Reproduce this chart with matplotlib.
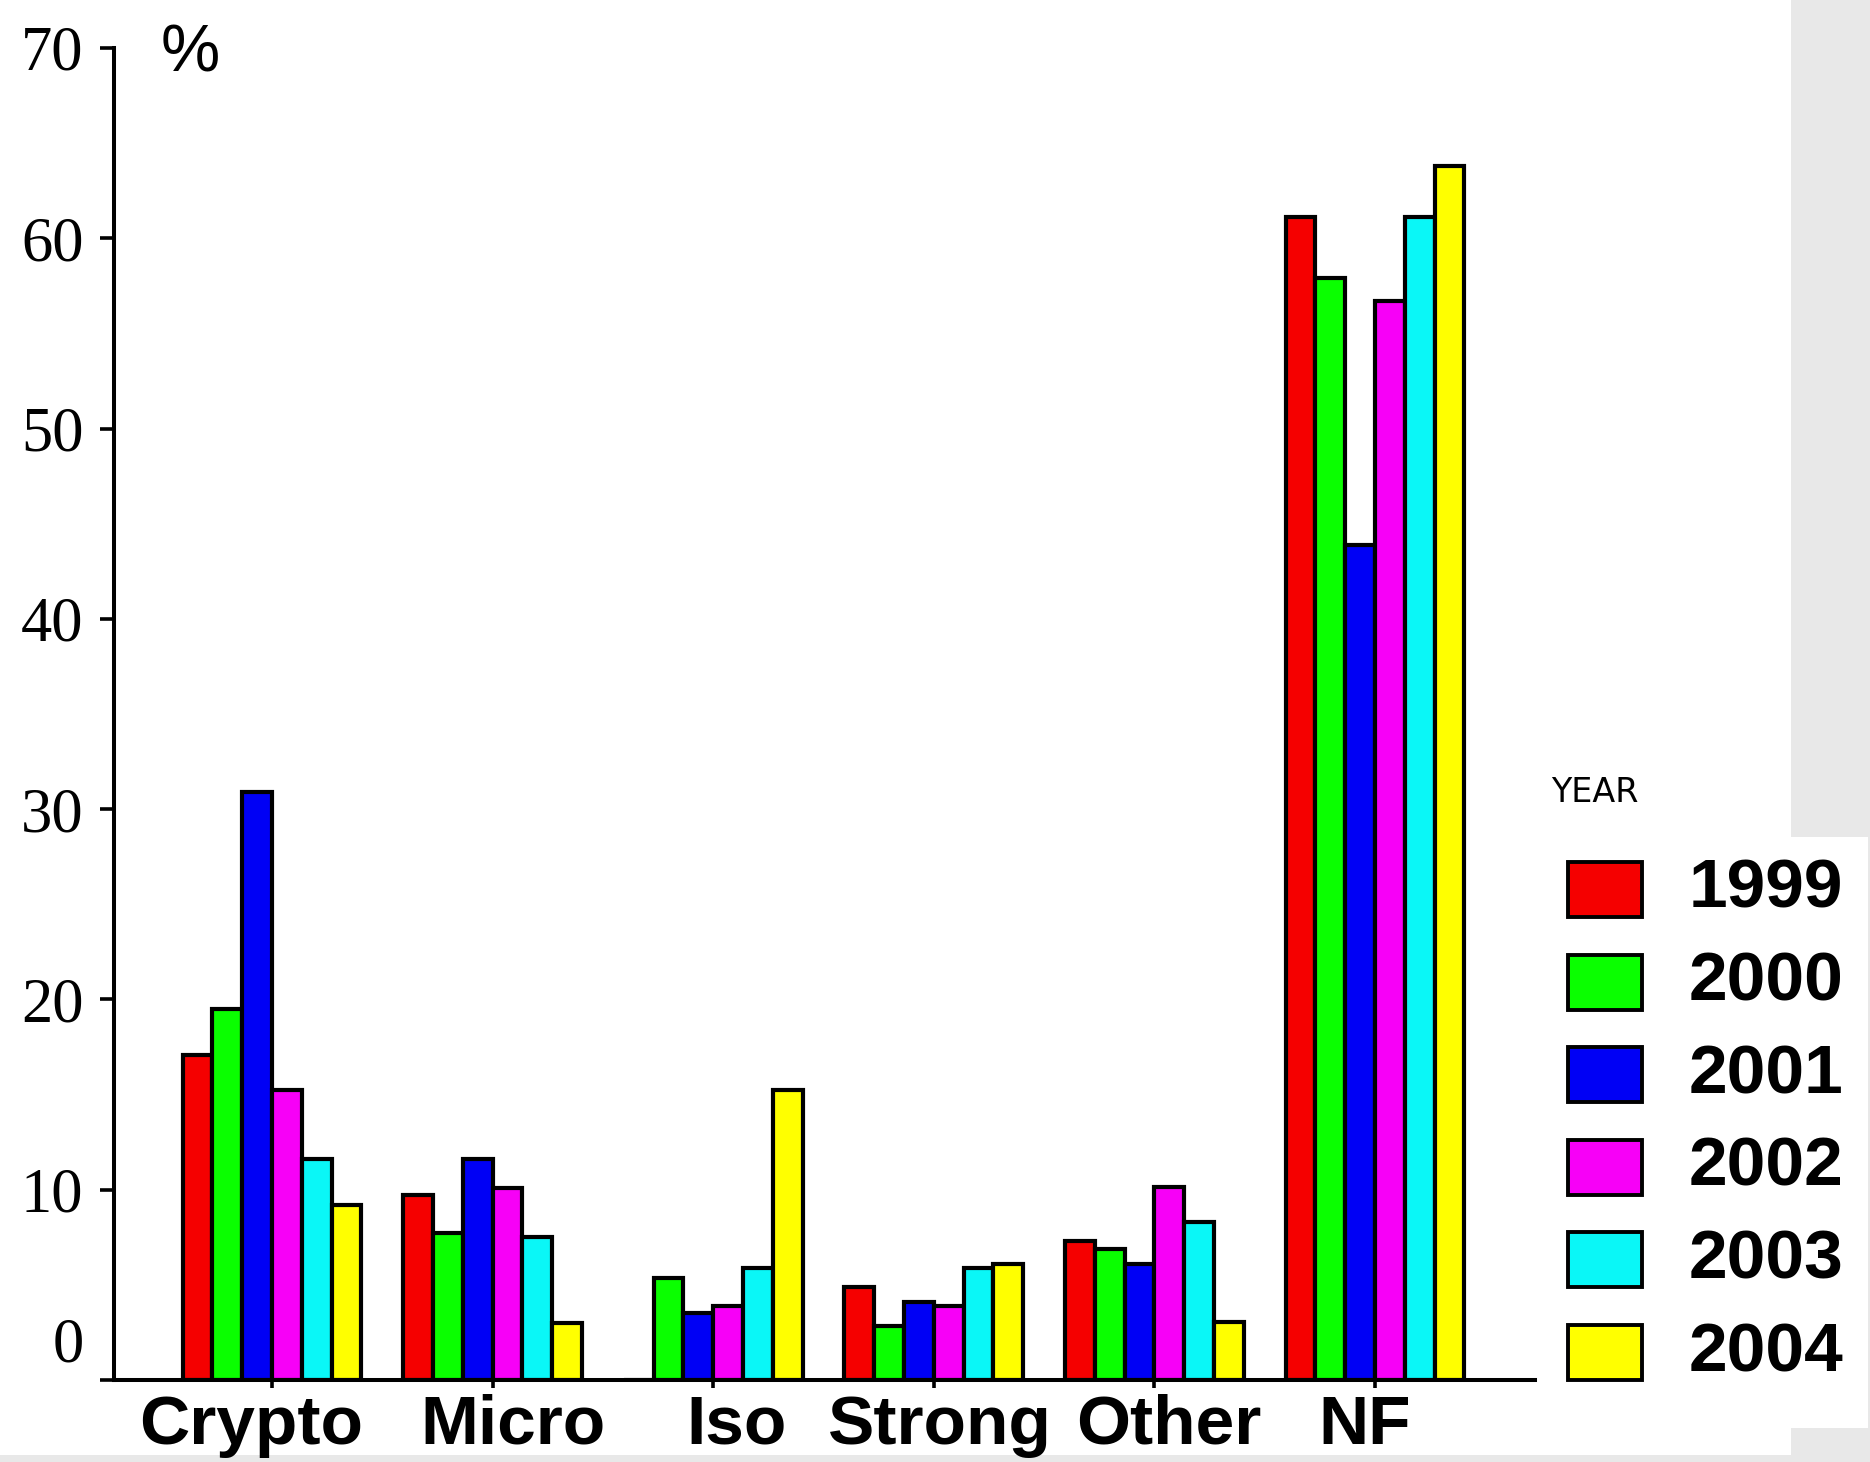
import matplotlib
matplotlib.use("Agg")
import matplotlib.pyplot as plt
import matplotlib.transforms as mtransforms
from matplotlib.patches import Rectangle
import numpy as np

# data (percent)
categories = ["Crypto", "Micro", "Iso", "Strong", "Other", "NF"]
years = ["1999", "2000", "2001", "2002", "2003", "2004"]
v1999 = [17.1, 9.7, 0.0, 4.9, 7.3, 61.1]
v2000 = [19.5, 7.7, 5.35, 2.85, 6.9, 57.9]
v2001 = [30.9, 11.6, 3.5, 4.1, 6.1, 43.9]
v2002 = [15.25, 10.1, 3.9, 3.9, 10.15, 56.7]
v2003 = [11.6, 7.5, 5.9, 5.9, 8.3, 61.1]
v2004 = [9.2, 3.0, 15.25, 6.1, 3.05, 63.8]
series = [v1999, v2000, v2001, v2002, v2003, v2004]
colors = ["#f50000", "#0aff00", "#0000f5", "#f700f7", "#0af7f7", "#ffff00"]

# horizontal nudges (px) of the category labels, as in the original
label_nudge = [-21, 20, 23, 6, 14, -10]

W, H = 1870, 1462
fig = plt.figure(figsize=(W / 100, H / 100), dpi=100)
fig.patch.set_facecolor("white")

# background / legend layer in pixel coords
bg = fig.add_axes([0, 0, 1, 1], zorder=-1)
bg.set_xlim(0, W)
bg.set_ylim(H, 0)
bg.axis("off")
gray = "#e8e8e8"
for (x0, y0, w, h) in [(1791, 0, W - 1791, 837), (1868, 0, 2, H),
                       (1791, 1428, W - 1791, H - 1428), (0, 1455, W, H - 1455)]:
    bg.add_patch(Rectangle((x0, y0), w, h, facecolor=gray, edgecolor="none"))

ax = fig.add_axes([114 / W, 1 - 1380 / H, (1535 - 114) / W, (1380 - 48) / H])
ax.patch.set_alpha(0)
x = np.arange(len(categories))
bw = 0.135
for i, (vals, c) in enumerate(zip(series, colors)):
    ax.bar(x + (i - 2.5) * bw, vals, width=bw, color=c, edgecolor="black",
           linewidth=3.0, zorder=2)

ax.set_xlim(-0.716, 5.725)
ax.set_ylim(0, 70)
ax.set_yticks(np.arange(0, 71, 10))
ax.set_xticks(x)
ax.set_xticklabels(categories, fontfamily="Liberation Sans", fontweight="bold",
                   fontsize=50)
ax.set_yticklabels([str(v) for v in range(0, 71, 10)],
                   fontfamily="Liberation Serif", fontsize=45)
for s in ["top", "right"]:
    ax.spines[s].set_visible(False)
for s in ["left", "bottom"]:
    ax.spines[s].set_linewidth(2.9)
ax.tick_params(axis="y", length=10, width=2.6, pad=12)
ax.tick_params(axis="x", length=6, width=2.6, pad=4)

for lab, dx in zip(ax.get_xticklabels(), label_nudge):
    lab.set_transform(lab.get_transform() +
                      mtransforms.ScaledTranslation(dx / 100, 0, fig.dpi_scale_trans))

# the "0" label sits above the axis line
lab0 = ax.get_yticklabels()[0]
lab0.set_transform(lab0.get_transform() +
                   mtransforms.ScaledTranslation(0, 40 / 100, fig.dpi_scale_trans))

fig.text(190 / W, 1 - 54 / H, "%", fontfamily="Liberation Sans", fontsize=48,
         ha="center", va="center")

# legend
bg.text(1551, 793, "YEAR", fontfamily="DejaVu Sans", fontsize=24,
        ha="left", va="center")
for i, (yr, c) in enumerate(zip(years, colors)):
    top = 862 + i * 92.6
    bg.add_patch(Rectangle((1568, top), 74, 55, facecolor=c, edgecolor="black",
                           linewidth=2.8))
    bg.text(1689, top + 28, yr, fontfamily="Liberation Sans", fontweight="bold",
            fontsize=50, ha="left", va="center")

fig.savefig("out.png", dpi=100)
